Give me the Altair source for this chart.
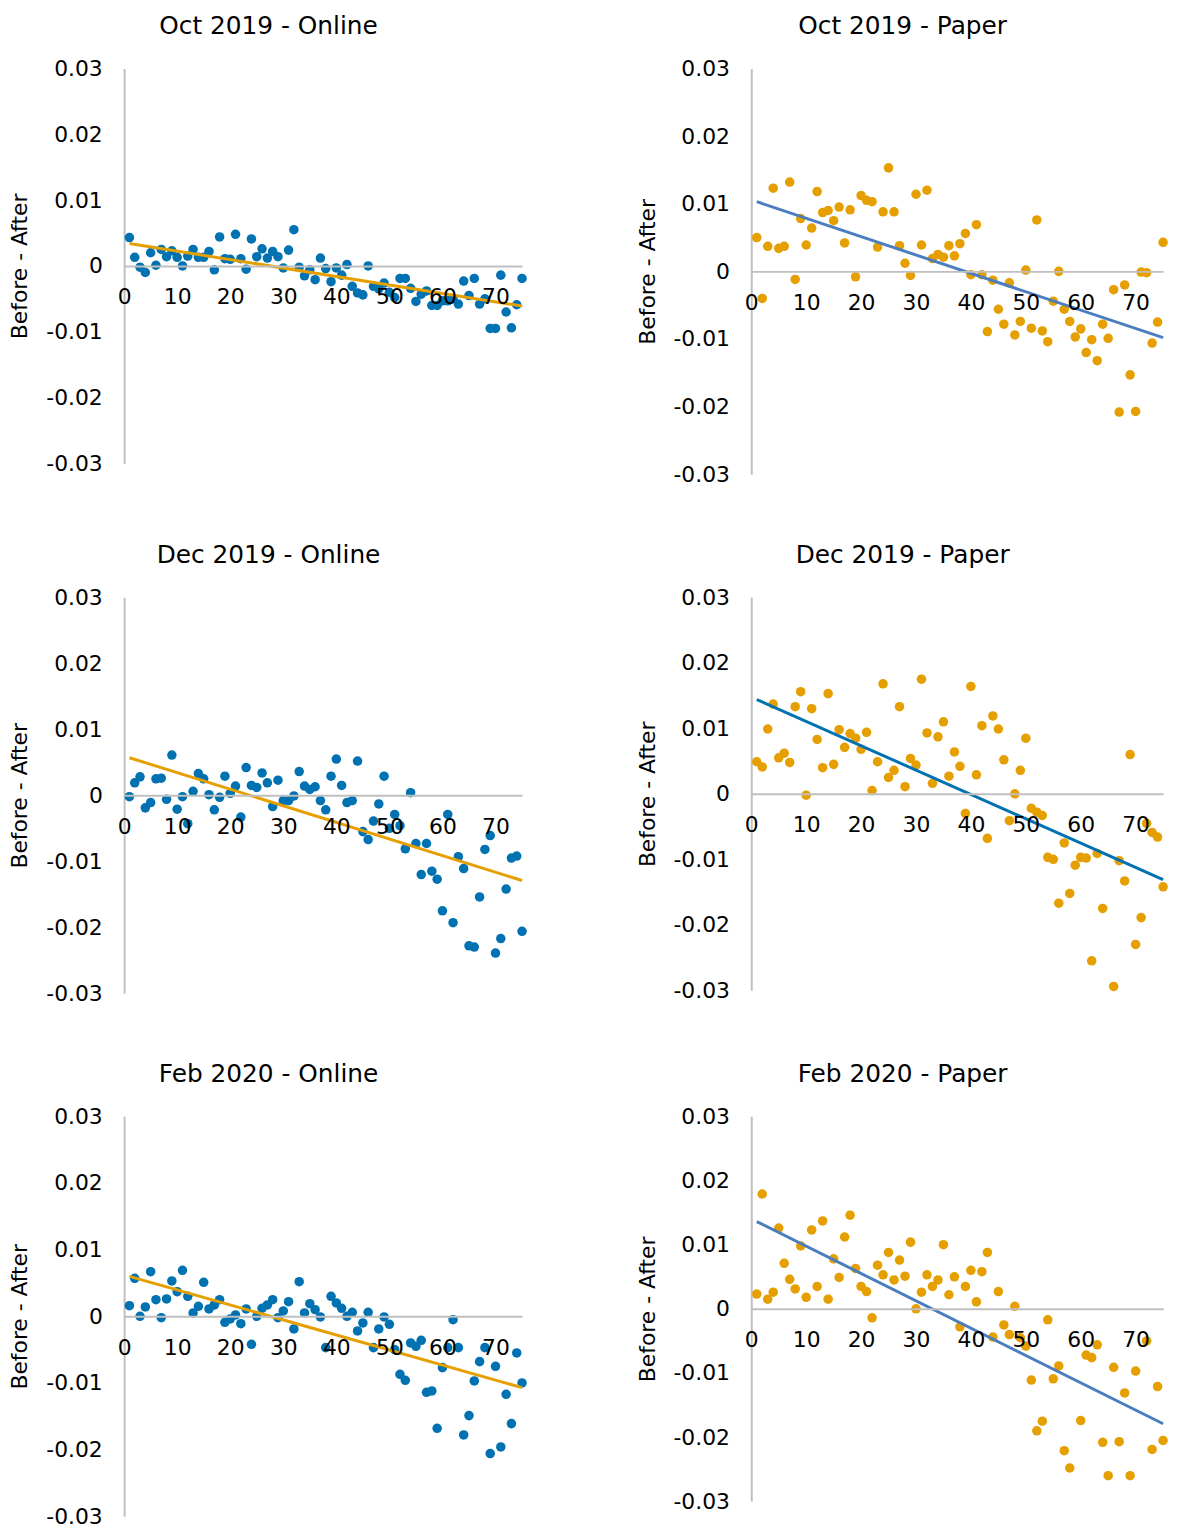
import altair as alt
import pandas as pd

X = list(range(1, 76))
X_TICKS = [0, 10, 20, 30, 40, 50, 60, 70]
Y_TICKS = [-0.03, -0.02, -0.01, 0, 0.01, 0.02, 0.03]

TITLES = ["Oct 2019 - Online", "Oct 2019 - Paper",
          "Dec 2019 - Online", "Dec 2019 - Paper",
          "Feb 2020 - Online", "Feb 2020 - Paper"]

oct_online = [0.0043, 0.0013, -0.0002, -0.0010, 0.0020, 0.0001, 0.0025, 0.0014, 0.0023, 0.0013,
              0.0000, 0.0015, 0.0025, 0.0013, 0.0013, 0.0022, -0.0006, 0.0044, 0.0011, 0.0010,
              0.0048, 0.0011, -0.0005, 0.0041, 0.0014, 0.0026, 0.0012, 0.0022, 0.0014, -0.0003,
              0.0024, 0.0055, -0.0002, -0.0015, -0.0006, -0.0021, 0.0012, -0.0004, -0.0024, -0.0003,
              -0.0014, 0.0002, -0.0031, -0.0041, -0.0044, 0.0000, -0.0031, -0.0035, -0.0026, -0.0040,
              -0.0048, -0.0019, -0.0019, -0.0034, -0.0054, -0.0043, -0.0038, -0.0060, -0.0060, -0.0053,
              -0.0053, -0.0050, -0.0058, -0.0023, -0.0045, -0.0019, -0.0058, -0.0050, -0.0095, -0.0095,
              -0.0014, -0.0070, -0.0094, -0.0059, -0.0019]

oct_paper = [0.0050, -0.0040, 0.0037, 0.0123, 0.0034, 0.0037, 0.0132, -0.0012, 0.0078, 0.0039,
             0.0064, 0.0118, 0.0087, 0.0090, 0.0075, 0.0095, 0.0042, 0.0091, -0.0008, 0.0112,
             0.0105, 0.0103, 0.0036, 0.0088, 0.0153, 0.0088, 0.0038, 0.0012, -0.0006, 0.0114,
             0.0039, 0.0120, 0.0019, 0.0025, 0.0021, 0.0038, 0.0023, 0.0041, 0.0056, -0.0005,
             0.0069, -0.0005, -0.0089, -0.0013, -0.0056, -0.0078, -0.0017, -0.0094, -0.0074, 0.0002,
             -0.0084, 0.0076, -0.0088, -0.0104, -0.0044, 0.0000, -0.0056, -0.0074, -0.0097, -0.0085,
             -0.0120, -0.0101, -0.0132, -0.0078, -0.0099, -0.0027, -0.0208, -0.0020, -0.0153, -0.0207,
             -0.0001, -0.0002, -0.0106, -0.0075, 0.0043]

dec_online = [-0.0002, 0.0019, 0.0028, -0.0019, -0.0011, 0.0025, 0.0026, -0.0006, 0.0061, -0.0021,
              -0.0002, -0.0043, 0.0006, 0.0033, 0.0025, 0.0001, -0.0022, -0.0003, 0.0029, 0.0003,
              0.0014, -0.0033, 0.0042, 0.0015, 0.0012, 0.0034, 0.0019, -0.0017, 0.0023, -0.0008,
              -0.0008, -0.0001, 0.0036, 0.0014, 0.0009, 0.0013, -0.0008, -0.0022, 0.0029, 0.0055,
              0.0015, -0.0011, -0.0008, 0.0052, -0.0055, -0.0067, -0.0039, -0.0013, 0.0029, -0.0050,
              -0.0029, -0.0046, -0.0081, 0.0004, -0.0073, -0.0120, -0.0073, -0.0115, -0.0127, -0.0175,
              -0.0029, -0.0193, -0.0093, -0.0111, -0.0228, -0.0230, -0.0154, -0.0082, -0.0061, -0.0239,
              -0.0217, -0.0142, -0.0095, -0.0092, -0.0206]

dec_paper = [0.0049, 0.0041, 0.0099, 0.0137, 0.0055, 0.0062, 0.0048, 0.0133, 0.0156, -0.0002,
             0.0130, 0.0083, 0.0040, 0.0153, 0.0045, 0.0098, 0.0071, 0.0092, 0.0085, 0.0068,
             0.0094, 0.0005, 0.0049, 0.0168, 0.0025, 0.0036, 0.0133, 0.0011, 0.0054, 0.0044,
             0.0175, 0.0093, 0.0016, 0.0087, 0.0110, 0.0027, 0.0064, 0.0042, -0.0030, 0.0164,
             0.0029, 0.0104, -0.0068, 0.0119, 0.0099, 0.0052, -0.0041, 0.0000, 0.0036, 0.0085,
             -0.0022, -0.0028, -0.0033, -0.0097, -0.0100, -0.0167, -0.0075, -0.0152, -0.0109, -0.0097,
             -0.0098, -0.0255, -0.0091, -0.0175, None, -0.0294, -0.0102, -0.0133, 0.0060, -0.0230,
             -0.0189, -0.0045, -0.0059, -0.0066, -0.0142]

feb_online = [0.0016, 0.0057, 0.0000, 0.0014, 0.0067, 0.0025, -0.0002, 0.0026, 0.0053, 0.0037,
              0.0069, 0.0030, 0.0005, 0.0015, 0.0051, 0.0011, 0.0017, 0.0025, -0.0009, -0.0004,
              0.0002, -0.0011, 0.0011, -0.0042, 0.0000, 0.0012, 0.0017, 0.0025, -0.0002, 0.0008,
              0.0022, -0.0019, 0.0052, 0.0005, 0.0019, 0.0010, -0.0001, -0.0047, 0.0030, 0.0020,
              0.0012, 0.0000, 0.0006, -0.0022, -0.0010, 0.0006, -0.0047, -0.0019, -0.0001, -0.0012,
              -0.0050, -0.0087, -0.0096, -0.0040, -0.0045, -0.0036, -0.0114, -0.0112, -0.0168, -0.0077,
              -0.0047, -0.0005, -0.0047, -0.0178, -0.0149, -0.0097, -0.0068, -0.0047, -0.0206, -0.0075,
              -0.0196, -0.0117, -0.0161, -0.0055, -0.0100]

feb_paper = [0.0023, 0.0179, 0.0015, 0.0026, 0.0126, 0.0071, 0.0046, 0.0031, 0.0098, 0.0018,
             0.0123, 0.0035, 0.0137, 0.0015, 0.0078, 0.0049, 0.0112, 0.0146, 0.0063, 0.0035,
             0.0027, -0.0014, 0.0068, 0.0053, 0.0088, 0.0045, 0.0076, 0.0051, 0.0104, 0.0000,
             0.0026, 0.0053, 0.0035, 0.0045, 0.0100, 0.0022, 0.0050, -0.0028, 0.0035, 0.0060,
             0.0011, 0.0058, 0.0088, -0.0044, 0.0027, -0.0025, -0.0040, 0.0004, -0.0045, -0.0058,
             -0.0111, -0.0190, -0.0175, -0.0017, -0.0109, -0.0089, -0.0221, -0.0248, None, -0.0174,
             -0.0072, -0.0076, -0.0056, -0.0208, -0.0260, -0.0091, -0.0207, -0.0131, -0.0260, -0.0097,
             None, -0.0050, -0.0219, -0.0121, -0.0205]

# Linear trend lines: x positions and y at start / end
TREND_X = [1, 75]
trend_oct_online = [0.0034, -0.0061]
trend_oct_paper = [0.0103, -0.0098]
trend_dec_online = [0.0057, -0.0129]
trend_dec_paper = [0.0144, -0.0131]
trend_feb_online = [0.0060, -0.0107]
trend_feb_paper = [0.0136, -0.0179]

BLUE = "#0072B2"
ORANGE = "#E69F00"
STEEL = "#4A7EBF"
FONT = "DejaVu Sans"
GRAY = "#BFBFBF"


def panel(title, ys, trend, pt_color, line_color, w, h):
    df = pd.DataFrame({"x": X, "y": ys}).dropna()
    tdf = pd.DataFrame({"x": TREND_X, "y": trend})
    xs = alt.Scale(domain=[0, 75], nice=False, zero=False)
    ysc = alt.Scale(domain=[-0.03, 0.03], nice=False)
    xaxis = alt.Axis(values=X_TICKS, offset=-h / 2, labelFlush=False, labelOverlap=False,
                     ticks=False, grid=False, domainColor=GRAY, domainWidth=2,
                     labelFontSize=22, labelPadding=21, labelColor="black", labelFont=FONT,
                     title=None, zindex=1)
    yaxis = alt.Axis(values=Y_TICKS, ticks=False, grid=False, domainColor=GRAY, domainWidth=2,
                     labelFontSize=22, labelPadding=22, labelColor="black", labelOverlap=False,
                     labelFont=FONT,
                     labelExpr="(datum.value < 0 ? '-' : '') + format(abs(datum.value), '.2~f')",
                     title="Before - After", titleFontSize=22, titleFontWeight="normal",
                     titleColor="black", titlePadding=14, titleFont=FONT)
    pts = alt.Chart(df).mark_circle(size=92, opacity=1, color=pt_color).encode(
        x=alt.X("x:Q", scale=xs, axis=xaxis),
        y=alt.Y("y:Q", scale=ysc, axis=yaxis),
    )
    line = alt.Chart(tdf).mark_line(color=line_color, strokeWidth=3).encode(
        x=alt.X("x:Q", scale=xs),
        y=alt.Y("y:Q", scale=ysc),
    )
    return alt.layer(pts, line).properties(
        width=w, height=h,
        title=alt.TitleParams(title, fontSize=25, fontWeight="normal", font=FONT, color="black",
                              anchor="middle", frame="bounds", offset=19),
    )


panels = [
    panel(TITLES[0], oct_online, trend_oct_online, BLUE, ORANGE, 401, 398),
    panel(TITLES[1], oct_paper, trend_oct_paper, ORANGE, STEEL, 415, 409),
    panel(TITLES[2], dec_online, trend_dec_online, BLUE, ORANGE, 401, 399),
    panel(TITLES[3], dec_paper, trend_dec_paper, ORANGE, BLUE, 415, 396),
    panel(TITLES[4], feb_online, trend_feb_online, BLUE, ORANGE, 401, 403),
    panel(TITLES[5], feb_paper, trend_feb_paper, ORANGE, STEEL, 415, 388),
]

chart = alt.concat(*panels, columns=2, spacing={"row": 124, "column": 231}, bounds="flush").configure(
    font=FONT, padding={"left": 1, "top": 0, "right": 5, "bottom": 5}
).configure_view(stroke=None)

chart.save("out.html", embed_options={"renderer": "svg", "actions": False})
